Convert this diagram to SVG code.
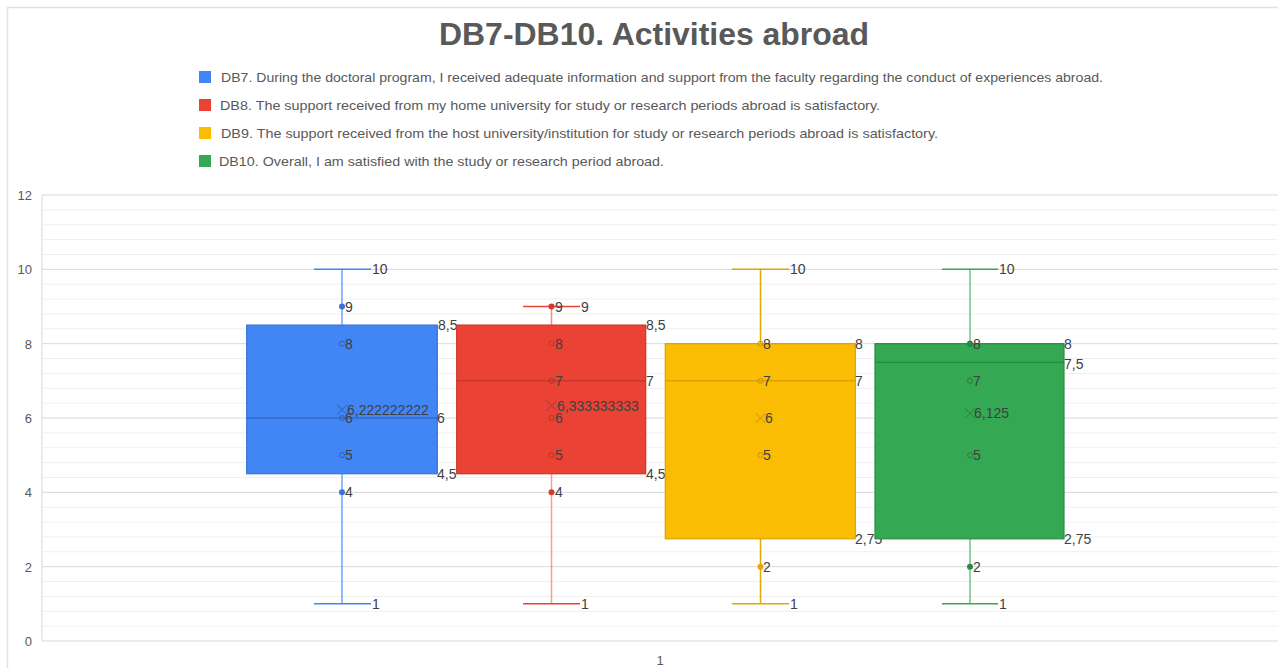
<svg xmlns="http://www.w3.org/2000/svg" width="1278" height="668" viewBox="0 0 1278 668">
<style>
text{font-family:"Liberation Sans",Arial,sans-serif;}
.title{font-size:32px;font-weight:bold;fill:#595959;}
.leg{font-size:13px;fill:#595959;}
.ax{font-size:13px;fill:#595959;}
.lbl{font-size:14px;fill:#404040;dominant-baseline:central;}
.minor{stroke:#f0f0f0;stroke-width:1;}
.major{stroke:#d9d9d9;stroke-width:1;}
.open{fill:none;stroke-width:1;}
</style>
<rect width="1278" height="668" fill="#ffffff"/>
<path d="M7.5,668 V7.5 H1278" fill="none" stroke="#e3e3e3" stroke-width="1.5"/>
<text class="title" x="654" y="45" text-anchor="middle" textLength="430" lengthAdjust="spacingAndGlyphs">DB7-DB10. Activities abroad</text>
<g id="legend">
<rect x="199" y="71" width="12" height="12" fill="#4285F4"/>
<text class="leg" x="221" y="82" textLength="882" lengthAdjust="spacingAndGlyphs">DB7. During the doctoral program, I received adequate information and support from the faculty regarding the conduct of experiences abroad.</text>
<rect x="199" y="99" width="12" height="12" fill="#EA4335"/>
<text class="leg" x="220" y="110" textLength="660" lengthAdjust="spacingAndGlyphs">DB8. The support received from my home university for study or research periods abroad is satisfactory.</text>
<rect x="199" y="127" width="12" height="12" fill="#FBBC04"/>
<text class="leg" x="221" y="138" textLength="717" lengthAdjust="spacingAndGlyphs">DB9. The support received from the host university/institution for study or research periods abroad is satisfactory.</text>
<rect x="199" y="155" width="12" height="12" fill="#34A853"/>
<text class="leg" x="219" y="166" textLength="445" lengthAdjust="spacingAndGlyphs">DB10. Overall, I am satisfied with the study or research period abroad.</text>
</g>
<g id="grid">
<line class="minor" x1="42" x2="1278" y1="626.13" y2="626.13"/>
<line class="minor" x1="42" x2="1278" y1="611.27" y2="611.27"/>
<line class="minor" x1="42" x2="1278" y1="596.4" y2="596.4"/>
<line class="minor" x1="42" x2="1278" y1="581.53" y2="581.53"/>
<line class="minor" x1="42" x2="1278" y1="551.8" y2="551.8"/>
<line class="minor" x1="42" x2="1278" y1="536.93" y2="536.93"/>
<line class="minor" x1="42" x2="1278" y1="522.07" y2="522.07"/>
<line class="minor" x1="42" x2="1278" y1="507.2" y2="507.2"/>
<line class="minor" x1="42" x2="1278" y1="477.47" y2="477.47"/>
<line class="minor" x1="42" x2="1278" y1="462.6" y2="462.6"/>
<line class="minor" x1="42" x2="1278" y1="447.73" y2="447.73"/>
<line class="minor" x1="42" x2="1278" y1="432.87" y2="432.87"/>
<line class="minor" x1="42" x2="1278" y1="403.13" y2="403.13"/>
<line class="minor" x1="42" x2="1278" y1="388.27" y2="388.27"/>
<line class="minor" x1="42" x2="1278" y1="373.4" y2="373.4"/>
<line class="minor" x1="42" x2="1278" y1="358.53" y2="358.53"/>
<line class="minor" x1="42" x2="1278" y1="328.8" y2="328.8"/>
<line class="minor" x1="42" x2="1278" y1="313.93" y2="313.93"/>
<line class="minor" x1="42" x2="1278" y1="299.07" y2="299.07"/>
<line class="minor" x1="42" x2="1278" y1="284.2" y2="284.2"/>
<line class="minor" x1="42" x2="1278" y1="254.47" y2="254.47"/>
<line class="minor" x1="42" x2="1278" y1="239.6" y2="239.6"/>
<line class="minor" x1="42" x2="1278" y1="224.73" y2="224.73"/>
<line class="minor" x1="42" x2="1278" y1="209.87" y2="209.87"/>
<line class="major" x1="42" x2="1278" y1="641" y2="641"/>
<line class="major" x1="42" x2="1278" y1="566.67" y2="566.67"/>
<line class="major" x1="42" x2="1278" y1="492.33" y2="492.33"/>
<line class="major" x1="42" x2="1278" y1="418" y2="418"/>
<line class="major" x1="42" x2="1278" y1="343.67" y2="343.67"/>
<line class="major" x1="42" x2="1278" y1="269.33" y2="269.33"/>
<line class="major" x1="42" x2="1278" y1="195" y2="195"/>
<line class="major" x1="42" x2="42" y1="195" y2="641"/>
</g>
<g id="axes">
<text class="ax" x="32" y="200" text-anchor="end">12</text>
<text class="ax" x="32" y="274" text-anchor="end">10</text>
<text class="ax" x="32" y="349" text-anchor="end">8</text>
<text class="ax" x="32" y="423" text-anchor="end">6</text>
<text class="ax" x="32" y="497" text-anchor="end">4</text>
<text class="ax" x="32" y="572" text-anchor="end">2</text>
<text class="ax" x="32" y="646" text-anchor="end">0</text>
<text class="ax" x="660" y="665" text-anchor="middle">1</text>
</g>
<g id="connectors">
<g stroke="#4285F4" stroke-width="1.5">
<line x1="342" x2="342" y1="269.33" y2="325.08" stroke-opacity="0.75"/>
<line x1="342" x2="342" y1="473.75" y2="603.83" stroke-opacity="0.75"/>
<line x1="314" x2="371" y1="269.33" y2="269.33"/>
<line x1="314" x2="371" y1="603.83" y2="603.83"/>
</g>
<g stroke="#EA4335" stroke-width="1.5">
<line x1="551.5" x2="551.5" y1="306.5" y2="325.08" stroke-opacity="0.6"/>
<line x1="551.5" x2="551.5" y1="473.75" y2="603.83" stroke-opacity="0.5"/>
<line x1="523" x2="580" y1="306.5" y2="306.5"/>
<line x1="523" x2="580" y1="603.83" y2="603.83"/>
</g>
<g stroke="#E0A800" stroke-width="1.5">
<line x1="760.5" x2="760.5" y1="269.33" y2="343.67"/>
<line x1="760.5" x2="760.5" y1="538.79" y2="603.83"/>
<line x1="732" x2="789" y1="269.33" y2="269.33"/>
<line x1="732" x2="789" y1="603.83" y2="603.83"/>
</g>
<g stroke="#34A853" stroke-width="1.5">
<line x1="970" x2="970" y1="269.33" y2="343.67" stroke-opacity="0.7"/>
<line x1="970" x2="970" y1="538.79" y2="603.83" stroke-opacity="0.7"/>
<line x1="942" x2="998" y1="269.33" y2="269.33"/>
<line x1="942" x2="998" y1="603.83" y2="603.83"/>
</g>
</g>
<g id="DB7">
<rect x="246.7" y="325.08" width="190.6" height="148.67" fill="#4285F4" stroke="#3a72d6" stroke-width="1.2"/>
<line x1="246.7" x2="437.3" y1="418" y2="418" stroke="#2f5fb3" stroke-width="1"/>
<circle cx="342" cy="306.5" r="3" fill="#3a72d6"/>
<circle class="open" cx="342" cy="343.67" r="2.5" stroke="#2f5fb3"/>
<circle class="open" cx="342" cy="418" r="2.5" stroke="#2f5fb3"/>
<circle class="open" cx="342" cy="455.17" r="2.5" stroke="#2f5fb3"/>
<circle cx="342" cy="492.33" r="3" fill="#3a72d6"/>
<path d="M337,404.7 l10,10 M347,404.7 l-10,10" stroke="#2f5fb3" stroke-width="1"/>
<text class="lbl" x="372" y="269.33">10</text>
<text class="lbl" x="345" y="306.5">9</text>
<text class="lbl" x="438" y="325.08">8,5</text>
<text class="lbl" x="345" y="343.67">8</text>
<text class="lbl" x="347" y="409.7">6,222222222</text>
<text class="lbl" x="345" y="418">6</text>
<text class="lbl" x="437" y="418">6</text>
<text class="lbl" x="345" y="455.17">5</text>
<text class="lbl" x="437" y="473.75">4,5</text>
<text class="lbl" x="345" y="492.33">4</text>
<text class="lbl" x="372" y="603.83">1</text>
</g>
<g id="DB8">
<rect x="456.7" y="325.08" width="189" height="148.67" fill="#EA4335" stroke="#c8372b" stroke-width="1.2"/>
<line x1="456.7" x2="645.7" y1="380.83" y2="380.83" stroke="#b83227" stroke-width="1"/>
<circle cx="551.5" cy="306.5" r="3" fill="#d63a2e"/>
<circle class="open" cx="551.5" cy="343.67" r="2.5" stroke="#b83227"/>
<circle class="open" cx="551.5" cy="380.83" r="2.5" stroke="#b83227"/>
<circle class="open" cx="551.5" cy="418" r="2.5" stroke="#b83227"/>
<circle class="open" cx="551.5" cy="455.17" r="2.5" stroke="#b83227"/>
<circle cx="551.5" cy="492.33" r="3" fill="#d63a2e"/>
<path d="M546.5,400.6 l10,10 M556.5,400.6 l-10,10" stroke="#b83227" stroke-width="1"/>
<text class="lbl" x="555" y="306.5">9</text>
<text class="lbl" x="581" y="306.5">9</text>
<text class="lbl" x="646" y="325.08">8,5</text>
<text class="lbl" x="555" y="343.67">8</text>
<text class="lbl" x="555" y="380.83">7</text>
<text class="lbl" x="646" y="380.83">7</text>
<text class="lbl" x="557" y="405.6">6,333333333</text>
<text class="lbl" x="555" y="418">6</text>
<text class="lbl" x="555" y="455.17">5</text>
<text class="lbl" x="646" y="473.75">4,5</text>
<text class="lbl" x="555" y="492.33">4</text>
<text class="lbl" x="581" y="603.83">1</text>
</g>
<g id="DB9">
<rect x="665.3" y="343.67" width="190" height="195.12" fill="#FBBC04" stroke="#d9a100" stroke-width="1.2"/>
<line x1="665.3" x2="855.3" y1="380.83" y2="380.83" stroke="#c99400" stroke-width="1"/>
<circle class="open" cx="760.5" cy="343.67" r="2.5" stroke="#c99400"/>
<circle class="open" cx="760.5" cy="380.83" r="2.5" stroke="#c99400"/>
<circle class="open" cx="760.5" cy="455.17" r="2.5" stroke="#c99400"/>
<circle cx="760.5" cy="566.67" r="3" fill="#e6a800"/>
<path d="M755.5,413 l10,10 M765.5,413 l-10,10" stroke="#c99400" stroke-width="1"/>
<text class="lbl" x="790" y="269.33">10</text>
<text class="lbl" x="763" y="343.67">8</text>
<text class="lbl" x="855" y="343.67">8</text>
<text class="lbl" x="763" y="380.83">7</text>
<text class="lbl" x="855" y="380.83">7</text>
<text class="lbl" x="765" y="418">6</text>
<text class="lbl" x="763" y="455.17">5</text>
<text class="lbl" x="855" y="538.79">2,75</text>
<text class="lbl" x="763" y="566.67">2</text>
<text class="lbl" x="790" y="603.83">1</text>
</g>
<g id="DB10">
<rect x="875" y="343.67" width="189" height="195.12" fill="#34A853" stroke="#2b8a45" stroke-width="1.2"/>
<line x1="875" x2="1064" y1="362.25" y2="362.25" stroke="#26803f" stroke-width="1"/>
<circle cx="970" cy="343.67" r="2.7" fill="#2b8a45" stroke="#26803f" stroke-width="1"/>
<circle class="open" cx="970" cy="380.83" r="2.5" stroke="#26803f"/>
<circle class="open" cx="970" cy="455.17" r="2.5" stroke="#26803f"/>
<circle cx="970" cy="566.67" r="3" fill="#2b8a45"/>
<path d="M965,408.35 l10,10 M975,408.35 l-10,10" stroke="#26803f" stroke-width="1"/>
<text class="lbl" x="999" y="269.33">10</text>
<text class="lbl" x="973" y="343.67">8</text>
<text class="lbl" x="1064" y="343.67">8</text>
<text class="lbl" x="1064" y="363.5">7,5</text>
<text class="lbl" x="973" y="380.83">7</text>
<text class="lbl" x="974" y="413.35">6,125</text>
<text class="lbl" x="973" y="455.17">5</text>
<text class="lbl" x="1064" y="538.79">2,75</text>
<text class="lbl" x="973" y="566.67">2</text>
<text class="lbl" x="999" y="603.83">1</text>
</g>
</svg>
